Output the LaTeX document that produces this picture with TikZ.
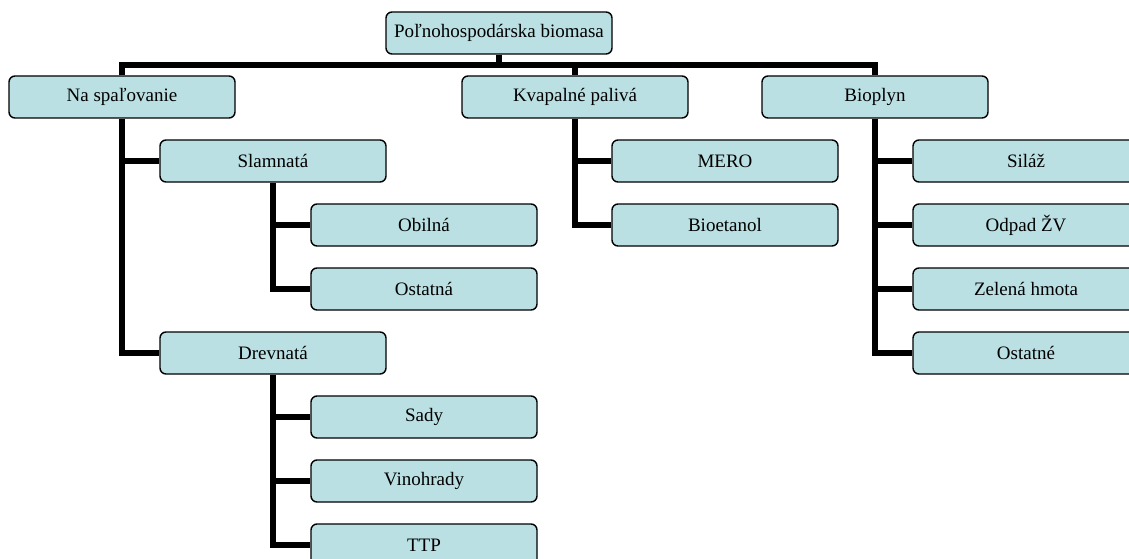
\documentclass[tikz,border=0pt]{standalone}
\usepackage{fontspec}
\setmainfont{Liberation Serif}
\definecolor{boxfill}{RGB}{186,224,227}
\begin{document}
\begin{tikzpicture}[
  x=1pt, y=1pt,
  node distance=64pt,
  block/.style = {
    draw,
    shape=rectangle,
    rounded corners=6pt,
    line width=1.4pt,
    minimum width=226pt,
    minimum height=42pt,
    fill=boxfill,
    align=center,
    font=\fontsize{19}{22}\selectfont
  },
  conn/.style = {
    line width=5.5pt,
    line join=miter
  },
]
  \useasboundingbox (0,0) rectangle (1129,-559);

  \node (root)[block] at (499,-33) {Poľnohospodárska biomasa};
  \coordinate (bus) at (0,-65);

  \node (spal)[
    below of=root,
    block,
    xshift=-377pt
  ] {Na spaľovanie};
  \node (kvap)[
    below of=root,
    block,
    xshift=76pt
  ] {Kvapalné palivá};
  \node (bio)[
    below of=root,
    block,
    xshift=376pt
  ] {Bioplyn};

  \node (slam)[below of=spal, block, xshift=151pt] {Slamnatá};
  \node (obil)[below of=slam, block, xshift=151pt] {Obilná};
  \node (ostslam)[below of=obil, block] {Ostatná};
  \node (drev)[below of=ostslam, block, xshift=-151pt] {Drevnatá};
  \node (sady)[below of=drev, block, xshift=151pt] {Sady};
  \node (vino)[below of=sady, block] {Vinohrady};
  \node (ttp)[below of=vino, block] {TTP};

  \node (mero)[below of=kvap, block, xshift=150pt] {MERO};
  \node (etan)[below of=mero, block] {Bioetanol};

  \node (silaz)[below of=bio, block, xshift=151pt] {Siláž};
  \node (odpad)[below of=silaz, block] {Odpad ŽV};
  \node (zelena)[below of=odpad, block] {Zelená hmota};
  \node (ostbio)[below of=zelena, block] {Ostatné};

  \draw[conn] (root.south) -- (root.south |- bus);
  \draw[conn] (spal.north) -- (spal.north |- bus) -- (bio.north |- bus) -- (bio.north);
  \draw[conn] (kvap.north |- bus) -- (kvap.north);

  \draw[conn] (spal.south) |- (drev.west);
  \draw[conn] (spal.south |- slam.west) -- (slam.west);
  \draw[conn] (slam.south) |- (ostslam.west);
  \draw[conn] (slam.south |- obil.west) -- (obil.west);
  \draw[conn] (drev.south) |- (ttp.west);
  \draw[conn] (drev.south |- sady.west) -- (sady.west);
  \draw[conn] (drev.south |- vino.west) -- (vino.west);

  \draw[conn] (kvap.south) |- (etan.west);
  \draw[conn] (kvap.south |- mero.west) -- (mero.west);

  \draw[conn] (bio.south) |- (ostbio.west);
  \draw[conn] (bio.south |- silaz.west) -- (silaz.west);
  \draw[conn] (bio.south |- odpad.west) -- (odpad.west);
  \draw[conn] (bio.south |- zelena.west) -- (zelena.west);
\end{tikzpicture}
\end{document}
